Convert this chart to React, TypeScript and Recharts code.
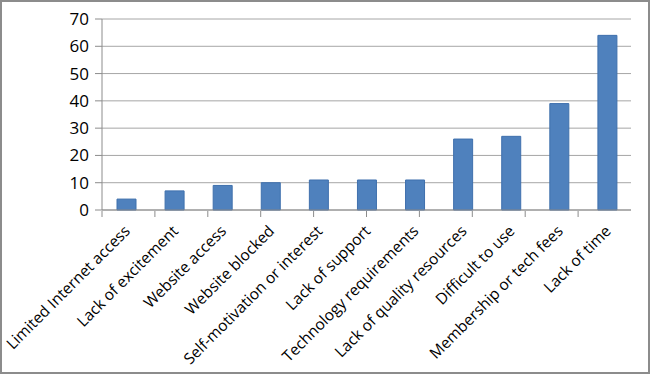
import React from 'react';
import { BarChart, Bar, XAxis, YAxis, CartesianGrid } from 'recharts';

const categories = [
  'Limited Internet access',
  'Lack of excitement',
  'Website access',
  'Website blocked',
  'Self-motivation or interest',
  'Lack of support',
  'Technology requirements',
  'Lack of quality resources',
  'Difficult to use',
  'Membership or tech fees',
  'Lack of time',
];
const counts = [4, 7, 9, 10, 11, 11, 11, 26, 27, 39, 64];
const yTicks = [0, 10, 20, 30, 40, 50, 60, 70];
const edgeTicks = categories.map((_, i) => i).concat(categories.length);

const data = categories.map((name, i) => ({ name, value: counts[i] }));

const FONT = '"Open Sans", Lato, sans-serif';

const CategoryTick = (props: any) => {
  const { x, y, payload } = props;
  return (
    <g transform={`translate(${x + 5},${y + 14})`}>
      <text
        textAnchor="end"
        transform="rotate(-45)"
        fontSize={15.5}
        fontFamily={FONT}
        fill="#000"
      >
        {payload.value}
      </text>
    </g>
  );
};

const NoLabel = () => <g />;

export default function App() {
  return (
    <div
      style={{
        position: 'absolute',
        left: 0,
        top: 0,
        width: 650,
        height: 374,
        boxSizing: 'border-box',
        border: '2px solid #8c8c8c',
        background: '#fff',
      }}
    >
      <BarChart
        width={646}
        height={370}
        data={data}
        margin={{ top: 17, right: 17, left: 0, bottom: 160 }}
      >
        <CartesianGrid vertical={false} stroke="#a6a6a6" />
        <XAxis
          dataKey="name"
          height={1}
          interval={0}
          tick={<CategoryTick />}
          tickLine={false}
          axisLine={{ stroke: '#8c8c8c' }}
        />
        <XAxis
          xAxisId="edge"
          type="number"
          domain={[0, categories.length]}
          ticks={edgeTicks}
          height={1}
          tick={<NoLabel />}
          tickSize={6}
          axisLine={false}
          tickLine={{ stroke: '#8c8c8c' }}
        />
        <YAxis
          width={100}
          domain={[0, 70]}
          ticks={yTicks}
          tickSize={7}
          tick={{ fontSize: 17, fontFamily: FONT, fill: '#000', dx: -4 }}
          tickLine={{ stroke: '#8c8c8c' }}
          axisLine={{ stroke: '#8c8c8c' }}
        />
        <Bar
          dataKey="value"
          fill="#4f81bd"
          stroke="#3f70ad"
          barSize={19}
          isAnimationActive={false}
        />
      </BarChart>
    </div>
  );
}
